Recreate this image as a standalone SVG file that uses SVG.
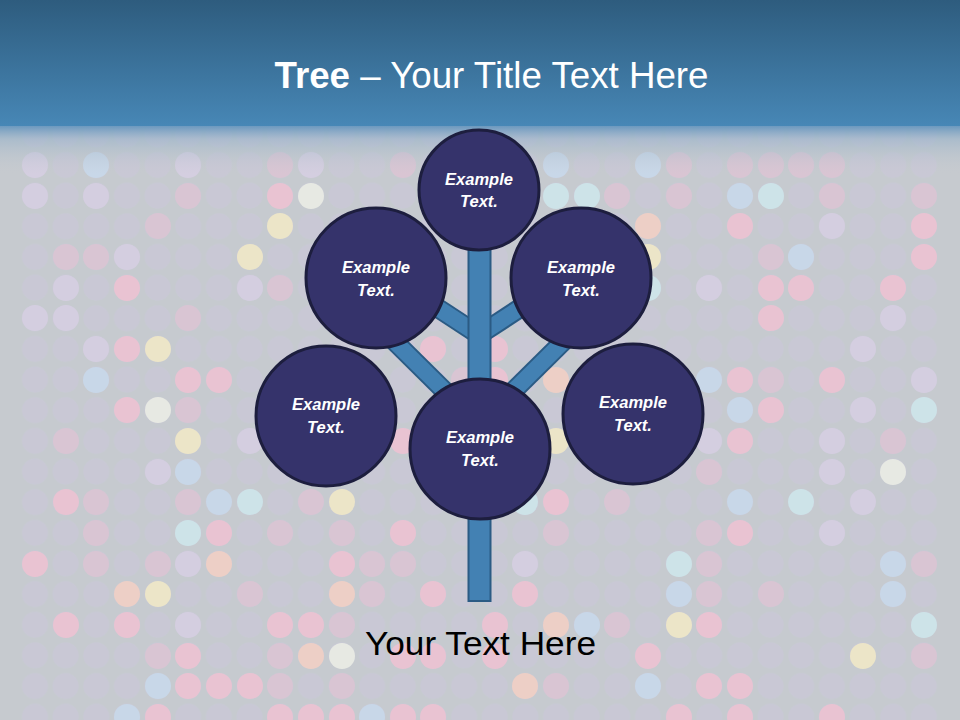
<svg xmlns="http://www.w3.org/2000/svg" width="960" height="720" viewBox="0 0 960 720">
<defs>
<linearGradient id="hdr" x1="0" y1="0" x2="0" y2="1">
<stop offset="0" stop-color="#2e5c7e"/>
<stop offset="1" stop-color="#4787b6"/>
</linearGradient>
<linearGradient id="fade" x1="0" y1="0" x2="0" y2="1">
<stop offset="0" stop-color="#5a8fbb" stop-opacity="0.95"/>
<stop offset="0.3" stop-color="#97b2c9" stop-opacity="0.6"/>
<stop offset="1" stop-color="#c6cacf" stop-opacity="0"/>
</linearGradient>
<pattern id="grid" patternUnits="userSpaceOnUse" x="19.675" y="149.675" width="30.65" height="30.65">
<circle cx="15.325" cy="15.325" r="13" fill="#c9c8d7" fill-opacity="0.8"/>
</pattern>
<style>
.dots circle{stroke:none}
.p{fill:#e9c3d2}.pf{fill:#d9c5d3}.y{fill:#ece5c8}.c{fill:#cde3e8}.b{fill:#c8d7e8}.w{fill:#e7e9e3}.pe{fill:#edcfc6}.l{fill:#d4cee0}
.br{stroke-linecap:butt;fill:none}
.bro{stroke:#2b5b84;stroke-width:20}
.bri{stroke:#4381b3;stroke-width:16}
.node circle{fill:#35336b;stroke:#1d1e3e;stroke-width:3}
.node text{font-family:"Liberation Sans",Arial,sans-serif;font-size:16.5px;font-weight:bold;font-style:italic;fill:#ffffff;text-anchor:middle}
</style>
</defs>

<rect width="960" height="720" fill="#c6cacf"/>
<rect x="20" y="118" width="920" height="602" fill="url(#grid)"/>
<g class="dots">
<circle class="l" cx="35" cy="165" r="13"/><circle class="b" cx="96" cy="165" r="13"/><circle class="l" cx="188" cy="165" r="13"/><circle class="pf" cx="280" cy="165" r="13"/><circle class="l" cx="311" cy="165" r="13"/><circle class="pf" cx="403" cy="165" r="13"/><circle class="b" cx="556" cy="165" r="13"/><circle class="b" cx="648" cy="165" r="13"/><circle class="pf" cx="679" cy="165" r="13"/><circle class="pf" cx="740" cy="165" r="13"/><circle class="pf" cx="771" cy="165" r="13"/><circle class="pf" cx="801" cy="165" r="13"/><circle class="pf" cx="832" cy="165" r="13"/>
<circle class="l" cx="35" cy="196" r="13"/><circle class="l" cx="96" cy="196" r="13"/><circle class="pf" cx="188" cy="196" r="13"/><circle class="p" cx="280" cy="196" r="13"/><circle class="w" cx="311" cy="196" r="13"/><circle class="c" cx="556" cy="196" r="13"/><circle class="c" cx="587" cy="196" r="13"/><circle class="pf" cx="617" cy="196" r="13"/><circle class="pf" cx="679" cy="196" r="13"/><circle class="b" cx="740" cy="196" r="13"/><circle class="c" cx="771" cy="196" r="13"/><circle class="pf" cx="832" cy="196" r="13"/><circle class="pf" cx="924" cy="196" r="13"/>
<circle class="pf" cx="158" cy="226" r="13"/><circle class="y" cx="280" cy="226" r="13"/><circle class="pe" cx="648" cy="226" r="13"/><circle class="p" cx="740" cy="226" r="13"/><circle class="l" cx="832" cy="226" r="13"/><circle class="p" cx="924" cy="226" r="13"/>
<circle class="pf" cx="66" cy="257" r="13"/><circle class="pf" cx="96" cy="257" r="13"/><circle class="l" cx="127" cy="257" r="13"/><circle class="y" cx="250" cy="257" r="13"/><circle class="y" cx="648" cy="257" r="13"/><circle class="pf" cx="771" cy="257" r="13"/><circle class="b" cx="801" cy="257" r="13"/><circle class="p" cx="924" cy="257" r="13"/>
<circle class="l" cx="66" cy="288" r="13"/><circle class="p" cx="127" cy="288" r="13"/><circle class="l" cx="250" cy="288" r="13"/><circle class="pf" cx="280" cy="288" r="13"/><circle class="c" cx="648" cy="288" r="13"/><circle class="l" cx="709" cy="288" r="13"/><circle class="p" cx="771" cy="288" r="13"/><circle class="p" cx="801" cy="288" r="13"/><circle class="p" cx="893" cy="288" r="13"/>
<circle class="l" cx="35" cy="318" r="13"/><circle class="l" cx="66" cy="318" r="13"/><circle class="pf" cx="188" cy="318" r="13"/><circle class="b" cx="617" cy="318" r="13"/><circle class="p" cx="771" cy="318" r="13"/><circle class="l" cx="893" cy="318" r="13"/>
<circle class="l" cx="96" cy="349" r="13"/><circle class="p" cx="127" cy="349" r="13"/><circle class="y" cx="158" cy="349" r="13"/><circle class="p" cx="433" cy="349" r="13"/><circle class="p" cx="495" cy="349" r="13"/><circle class="l" cx="863" cy="349" r="13"/>
<circle class="b" cx="96" cy="380" r="13"/><circle class="p" cx="188" cy="380" r="13"/><circle class="p" cx="219" cy="380" r="13"/><circle class="pf" cx="464" cy="380" r="13"/><circle class="p" cx="495" cy="380" r="13"/><circle class="pe" cx="556" cy="380" r="13"/><circle class="b" cx="709" cy="380" r="13"/><circle class="p" cx="740" cy="380" r="13"/><circle class="pf" cx="771" cy="380" r="13"/><circle class="p" cx="832" cy="380" r="13"/><circle class="l" cx="924" cy="380" r="13"/>
<circle class="p" cx="127" cy="410" r="13"/><circle class="w" cx="158" cy="410" r="13"/><circle class="pf" cx="188" cy="410" r="13"/><circle class="b" cx="740" cy="410" r="13"/><circle class="p" cx="771" cy="410" r="13"/><circle class="l" cx="863" cy="410" r="13"/><circle class="c" cx="924" cy="410" r="13"/>
<circle class="pf" cx="66" cy="441" r="13"/><circle class="y" cx="188" cy="441" r="13"/><circle class="l" cx="250" cy="441" r="13"/><circle class="p" cx="403" cy="441" r="13"/><circle class="y" cx="525" cy="441" r="13"/><circle class="y" cx="556" cy="441" r="13"/><circle class="l" cx="709" cy="441" r="13"/><circle class="p" cx="740" cy="441" r="13"/><circle class="l" cx="832" cy="441" r="13"/><circle class="pf" cx="893" cy="441" r="13"/>
<circle class="l" cx="158" cy="472" r="13"/><circle class="b" cx="188" cy="472" r="13"/><circle class="l" cx="311" cy="472" r="13"/><circle class="pf" cx="709" cy="472" r="13"/><circle class="l" cx="832" cy="472" r="13"/><circle class="w" cx="893" cy="472" r="13"/>
<circle class="p" cx="66" cy="502" r="13"/><circle class="pf" cx="96" cy="502" r="13"/><circle class="pf" cx="188" cy="502" r="13"/><circle class="b" cx="219" cy="502" r="13"/><circle class="c" cx="250" cy="502" r="13"/><circle class="pf" cx="311" cy="502" r="13"/><circle class="y" cx="342" cy="502" r="13"/><circle class="c" cx="525" cy="502" r="13"/><circle class="p" cx="556" cy="502" r="13"/><circle class="pf" cx="617" cy="502" r="13"/><circle class="b" cx="740" cy="502" r="13"/><circle class="c" cx="801" cy="502" r="13"/><circle class="l" cx="863" cy="502" r="13"/>
<circle class="pf" cx="96" cy="533" r="13"/><circle class="c" cx="188" cy="533" r="13"/><circle class="p" cx="219" cy="533" r="13"/><circle class="pf" cx="280" cy="533" r="13"/><circle class="pf" cx="342" cy="533" r="13"/><circle class="p" cx="403" cy="533" r="13"/><circle class="pf" cx="556" cy="533" r="13"/><circle class="pf" cx="709" cy="533" r="13"/><circle class="p" cx="740" cy="533" r="13"/><circle class="l" cx="832" cy="533" r="13"/>
<circle class="p" cx="35" cy="564" r="13"/><circle class="pf" cx="96" cy="564" r="13"/><circle class="pf" cx="158" cy="564" r="13"/><circle class="l" cx="188" cy="564" r="13"/><circle class="pe" cx="219" cy="564" r="13"/><circle class="p" cx="342" cy="564" r="13"/><circle class="pf" cx="372" cy="564" r="13"/><circle class="pf" cx="403" cy="564" r="13"/><circle class="l" cx="525" cy="564" r="13"/><circle class="c" cx="679" cy="564" r="13"/><circle class="pf" cx="709" cy="564" r="13"/><circle class="b" cx="893" cy="564" r="13"/><circle class="pf" cx="924" cy="564" r="13"/>
<circle class="pe" cx="127" cy="594" r="13"/><circle class="y" cx="158" cy="594" r="13"/><circle class="pf" cx="250" cy="594" r="13"/><circle class="pe" cx="342" cy="594" r="13"/><circle class="pf" cx="372" cy="594" r="13"/><circle class="p" cx="433" cy="594" r="13"/><circle class="p" cx="525" cy="594" r="13"/><circle class="b" cx="679" cy="594" r="13"/><circle class="pf" cx="709" cy="594" r="13"/><circle class="pf" cx="771" cy="594" r="13"/><circle class="b" cx="893" cy="594" r="13"/>
<circle class="p" cx="66" cy="625" r="13"/><circle class="p" cx="127" cy="625" r="13"/><circle class="l" cx="188" cy="625" r="13"/><circle class="p" cx="280" cy="625" r="13"/><circle class="p" cx="311" cy="625" r="13"/><circle class="pf" cx="342" cy="625" r="13"/><circle class="p" cx="495" cy="625" r="13"/><circle class="pe" cx="556" cy="625" r="13"/><circle class="b" cx="587" cy="625" r="13"/><circle class="pf" cx="617" cy="625" r="13"/><circle class="y" cx="679" cy="625" r="13"/><circle class="p" cx="709" cy="625" r="13"/><circle class="c" cx="924" cy="625" r="13"/>
<circle class="pf" cx="158" cy="656" r="13"/><circle class="p" cx="188" cy="656" r="13"/><circle class="pf" cx="280" cy="656" r="13"/><circle class="pe" cx="311" cy="656" r="13"/><circle class="w" cx="342" cy="656" r="13"/><circle class="p" cx="403" cy="656" r="13"/><circle class="p" cx="433" cy="656" r="13"/><circle class="p" cx="495" cy="656" r="13"/><circle class="p" cx="648" cy="656" r="13"/><circle class="y" cx="863" cy="656" r="13"/><circle class="pf" cx="924" cy="656" r="13"/>
<circle class="b" cx="158" cy="686" r="13"/><circle class="p" cx="188" cy="686" r="13"/><circle class="p" cx="219" cy="686" r="13"/><circle class="p" cx="250" cy="686" r="13"/><circle class="pf" cx="280" cy="686" r="13"/><circle class="pf" cx="342" cy="686" r="13"/><circle class="pe" cx="525" cy="686" r="13"/><circle class="pf" cx="556" cy="686" r="13"/><circle class="b" cx="648" cy="686" r="13"/><circle class="p" cx="709" cy="686" r="13"/><circle class="p" cx="740" cy="686" r="13"/>
<circle class="b" cx="127" cy="717" r="13"/><circle class="p" cx="158" cy="717" r="13"/><circle class="p" cx="280" cy="717" r="13"/><circle class="p" cx="311" cy="717" r="13"/><circle class="p" cx="342" cy="717" r="13"/><circle class="b" cx="372" cy="717" r="13"/><circle class="p" cx="403" cy="717" r="13"/><circle class="p" cx="433" cy="717" r="13"/><circle class="p" cx="679" cy="717" r="13"/><circle class="p" cx="740" cy="717" r="13"/><circle class="p" cx="832" cy="717" r="13"/>
</g>
<rect x="0" y="124" width="960" height="50" fill="url(#fade)"/>
<rect x="0" y="0" width="960" height="126" fill="url(#hdr)"/>

<text x="491.5" y="88" textLength="434" lengthAdjust="spacingAndGlyphs" font-family="Liberation Sans, Arial, sans-serif" font-size="36" fill="#ffffff" text-anchor="middle"><tspan font-weight="bold">Tree</tspan> – Your Title Text Here</text>

<g id="connectors">
<line class="br bro" x1="479" y1="335" x2="395" y2="280"/>
<line class="br bro" x1="479" y1="335" x2="563" y2="280"/>
<line class="br bro" x1="479" y1="425" x2="378" y2="325"/>
<line class="br bro" x1="479" y1="425" x2="580" y2="325"/>
<line class="br bri" x1="479" y1="335" x2="395" y2="280"/>
<line class="br bri" x1="479" y1="335" x2="563" y2="280"/>
<line class="br bri" x1="479" y1="425" x2="378" y2="325"/>
<line class="br bri" x1="479" y1="425" x2="580" y2="325"/>
<rect x="468.5" y="245" width="22" height="356" fill="#4381b3" stroke="#2b5b84" stroke-width="2"/>
</g>

<g id="node-top" class="node"><circle cx="479" cy="190" r="60"/><text x="479" y="185">Example</text><text x="479" y="207">Text.</text></g>
<g id="node-upper-left" class="node"><circle cx="376" cy="278" r="70"/><text x="376" y="273">Example</text><text x="376" y="296">Text.</text></g>
<g id="node-upper-right" class="node"><circle cx="581" cy="278" r="70"/><text x="581" y="273">Example</text><text x="581" y="296">Text.</text></g>
<g id="node-lower-left" class="node"><circle cx="326" cy="416" r="70"/><text x="326" y="410">Example</text><text x="326" y="433">Text.</text></g>
<g id="node-lower-right" class="node"><circle cx="633" cy="414" r="70"/><text x="633" y="408">Example</text><text x="633" y="431">Text.</text></g>
<g id="node-center" class="node"><circle cx="480" cy="449" r="70"/><text x="480" y="443">Example</text><text x="480" y="466">Text.</text></g>

<text x="480.5" y="655" textLength="231" lengthAdjust="spacingAndGlyphs" font-family="Liberation Sans, Arial, sans-serif" font-size="34" fill="#000000" text-anchor="middle">Your Text Here</text>
</svg>
